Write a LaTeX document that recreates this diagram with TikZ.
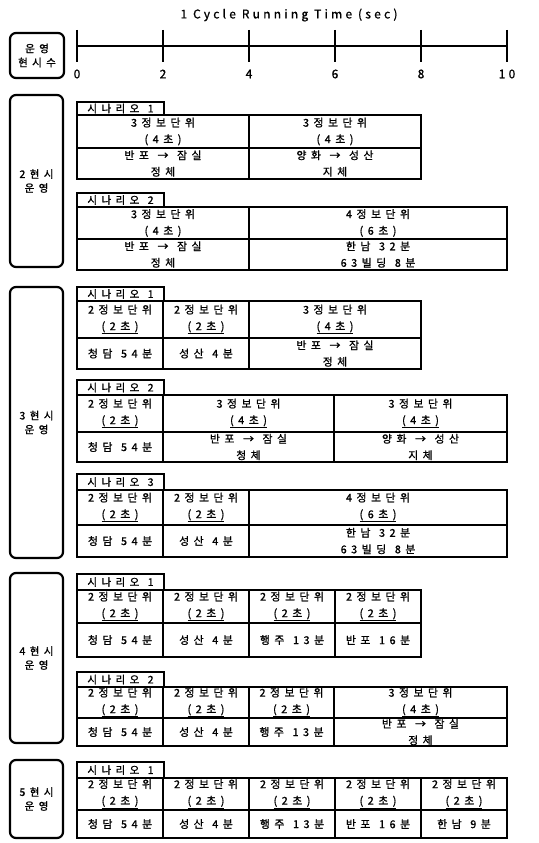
\documentclass[tikz,border=0pt]{standalone}
\usepackage{fontspec}
\newfontfamily\kr{Noto Sans CJK KR}[LetterSpace=42,FakeBold=1.2,WordSpace=1.25]
\newfontfamily\ttl{Noto Sans CJK KR}[LetterSpace=27,FakeBold=1]
\newcommand\bx[7]{\node[#1, minimum width={#4-#3}, minimum height={#6-#5}] (#2) at (#3,#5) {#7};}
\newcommand\ul[1]{\underline{#1}}
\begin{document}
\begin{tikzpicture}[x=1pt,y=-1pt,
  cell/.style={draw, line width=2pt, inner sep=0pt, outer sep=0pt, align=center,
    anchor=north west, font=\kr\fontsize{10.8}{16.5}\selectfont},
  tagbox/.style={draw, line width=1.8pt, inner sep=0pt, outer sep=0pt, align=center,
    anchor=north west, font=\kr\fontsize{10.5}{12}\selectfont},
  phase/.style={draw, line width=2.2pt, rounded corners=6pt, inner sep=0pt, outer sep=0pt,
    anchor=north west, align=center, font=\kr\fontsize{10.5}{14}\selectfont},
  axis/.style={line width=1.5pt},
  tick/.style={line width=2.5pt},
  num/.style={font=\ttl\fontsize{12}{14}\selectfont, inner sep=0pt}
]
\useasboundingbox (0,0) rectangle (538,843);

% ---------- axis ----------
\node[num] (title) at (289,15) {1 Cycle Running Time (sec)};
\coordinate (a0) at (77,46);
\coordinate (a10) at (507,46);
\draw[axis] (a0) -- (a10);
\foreach \i/\x in {0/77,2/163,4/249,6/335,8/421,10/507}{
  \draw[tick] (\x,30) -- (\x,62);
  \node[num] (n\i) at (\x,74) {\i};
}
\bx{phase}{hdr}{10}{64}{33}{78}{운영\\현시수}

% ---------- 2 phases ----------
\bx{phase}{p2}{10}{63}{95}{267}{2현시\\운영}
\bx{tagbox}{s21}{77}{164}{102}{115}{시나리오 1}
\bx{cell}{s21a}{77}{249}{115}{148}{3정보단위\\(4초)}
\bx{cell}{s21b}{249}{421}{115}{148}{3정보단위\\(4초)}
\bx{cell}{s21c}{77}{249}{148}{179}{반포 → 잠실\\정체}
\bx{cell}{s21d}{249}{421}{148}{179}{양화 → 성산\\지체}

\bx{tagbox}{s22}{77}{164}{193}{207}{시나리오 2}
\bx{cell}{s22a}{77}{249}{207}{239}{3정보단위\\(4초)}
\bx{cell}{s22b}{249}{507}{207}{239}{4정보단위\\(6초)}
\bx{cell}{s22c}{77}{249}{239}{270}{반포 → 잠실\\정체}
\bx{cell}{s22d}{249}{507}{239}{270}{한남 32분\\63빌딩 8분}

% ---------- 3 phases ----------
\bx{phase}{p3}{10}{63}{287}{558}{3현시\\운영}
\bx{tagbox}{s31}{77}{164}{287}{301}{시나리오 1}
\bx{cell}{s31a}{77}{163}{301}{338}{2정보단위\\\ul{(2초)}}
\bx{cell}{s31b}{163}{249}{301}{338}{2정보단위\\\ul{(2초)}}
\bx{cell}{s31c}{249}{421}{301}{338}{3정보단위\\\ul{(4초)}}
\bx{cell}{s31d}{77}{163}{338}{369}{청담 54분}
\bx{cell}{s31e}{163}{249}{338}{369}{성산 4분}
\bx{cell}{s31f}{249}{421}{338}{369}{반포 → 잠실\\정체}

\bx{tagbox}{s32}{77}{164}{380}{395}{시나리오 2}
\bx{cell}{s32a}{77}{163}{395}{432}{2정보단위\\\ul{(2초)}}
\bx{cell}{s32b}{163}{334}{395}{432}{3정보단위\\\ul{(4초)}}
\bx{cell}{s32c}{334}{507}{395}{432}{3정보단위\\\ul{(4초)}}
\bx{cell}{s32d}{77}{163}{432}{462}{청담 54분}
\bx{cell}{s32e}{163}{334}{432}{462}{반포 → 잠실\\청체}
\bx{cell}{s32f}{334}{507}{432}{462}{양화 → 성산\\지체}

\bx{tagbox}{s33}{77}{164}{474}{490}{시나리오 3}
\bx{cell}{s33a}{77}{163}{490}{525}{2정보단위\\\ul{(2초)}}
\bx{cell}{s33b}{163}{249}{490}{525}{2정보단위\\\ul{(2초)}}
\bx{cell}{s33c}{249}{507}{490}{525}{4정보단위\\\ul{(6초)}}
\bx{cell}{s33d}{77}{163}{525}{557}{청담 54분}
\bx{cell}{s33e}{163}{249}{525}{557}{성산 4분}
\bx{cell}{s33f}{249}{507}{525}{557}{한남 32분\\63빌딩 8분}

% ---------- 4 phases ----------
\bx{phase}{p4}{10}{63}{573}{743}{4현시\\운영}
\bx{tagbox}{s41}{77}{164}{574}{590}{시나리오 1}
\bx{cell}{s41a}{77}{163}{590}{623}{2정보단위\\\ul{(2초)}}
\bx{cell}{s41b}{163}{249}{590}{623}{2정보단위\\\ul{(2초)}}
\bx{cell}{s41c}{249}{335}{590}{623}{2정보단위\\\ul{(2초)}}
\bx{cell}{s41d}{335}{421}{590}{623}{2정보단위\\\ul{(2초)}}
\bx{cell}{s41e}{77}{163}{623}{657}{청담 54분}
\bx{cell}{s41f}{163}{249}{623}{657}{성산 4분}
\bx{cell}{s41g}{249}{335}{623}{657}{행주 13분}
\bx{cell}{s41h}{335}{421}{623}{657}{반포 16분}

\bx{tagbox}{s42}{77}{164}{672}{687}{시나리오 2}
\bx{cell}{s42a}{77}{163}{687}{718}{2정보단위\\\ul{(2초)}}
\bx{cell}{s42b}{163}{249}{687}{718}{2정보단위\\\ul{(2초)}}
\bx{cell}{s42c}{249}{334}{687}{718}{2정보단위\\\ul{(2초)}}
\bx{cell}{s42d}{334}{507}{687}{718}{3정보단위\\\ul{(4초)}}
\bx{cell}{s42e}{77}{163}{718}{746}{청담 54분}
\bx{cell}{s42f}{163}{249}{718}{746}{성산 4분}
\bx{cell}{s42g}{249}{334}{718}{746}{행주 13분}
\bx{cell}{s42h}{334}{507}{718}{746}{반포 → 잠실\\정체}

% ---------- 5 phases ----------
\bx{phase}{p5}{10}{63}{760}{838}{5현시\\운영}
\bx{tagbox}{s51}{77}{164}{762}{778}{시나리오 1}
\bx{cell}{s51a}{77}{163}{778}{810}{2정보단위\\\ul{(2초)}}
\bx{cell}{s51b}{163}{249}{778}{810}{2정보단위\\\ul{(2초)}}
\bx{cell}{s51c}{249}{335}{778}{810}{2정보단위\\\ul{(2초)}}
\bx{cell}{s51d}{335}{421}{778}{810}{2정보단위\\\ul{(2초)}}
\bx{cell}{s51e}{421}{507}{778}{810}{2정보단위\\\ul{(2초)}}
\bx{cell}{s51f}{77}{163}{810}{838}{청담 54분}
\bx{cell}{s51g}{163}{249}{810}{838}{성산 4분}
\bx{cell}{s51h}{249}{335}{810}{838}{행주 13분}
\bx{cell}{s51i}{335}{421}{810}{838}{반포 16분}
\bx{cell}{s51j}{421}{507}{810}{838}{한남 9분}
\end{tikzpicture}
\end{document}
